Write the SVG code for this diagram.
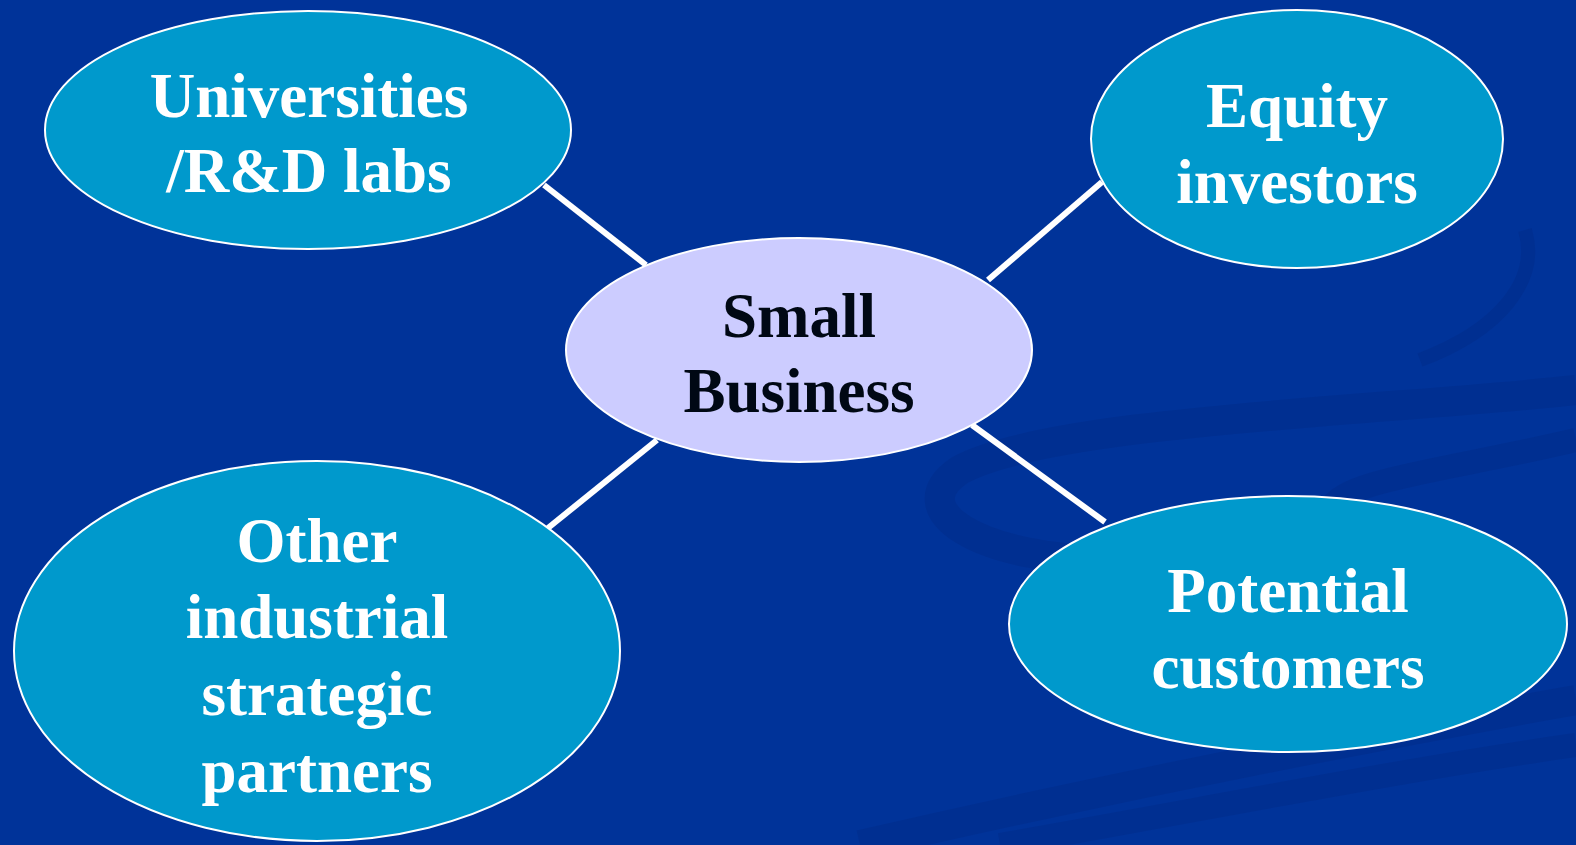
<svg xmlns="http://www.w3.org/2000/svg" width="1576" height="845" viewBox="0 0 1576 845">
<style>
.node{fill:#0099cc;stroke:#ffffff;stroke-width:2}
.center{fill:#ccccff;stroke:#ffffff;stroke-width:2}
.lbl{font-family:"Liberation Serif","Times New Roman",serif;font-weight:bold;font-size:63px;fill:#ffffff;text-anchor:middle}
.dark{fill:#000814}
.conn{stroke:#ffffff;stroke-width:6;fill:none}
.swirl{fill:none;stroke:#002a85;stroke-opacity:0.4}
</style>
<rect width="1576" height="845" fill="#003399"/>
<g id="background">
<path class="swirl" stroke-width="30" d="M1576,390 C1400,410 1050,420 960,470 C900,510 980,560 1110,560"/>
<path class="swirl" stroke-width="24" d="M1576,440 C1450,470 1340,480 1330,510 C1325,530 1380,540 1420,540"/>
<path class="swirl" stroke-width="30" d="M860,845 C1100,790 1350,740 1576,700"/>
<path class="swirl" stroke-width="24" d="M1000,845 C1200,810 1400,770 1576,745"/>
<path class="swirl" stroke-width="14" d="M1525,230 C1540,280 1500,330 1420,360"/>
</g>
<g id="connectors">
<line class="conn" x1="544" y1="185" x2="646" y2="265"/>
<line class="conn" x1="988" y1="280" x2="1102" y2="182"/>
<line class="conn" x1="548" y1="528" x2="657" y2="440"/>
<line class="conn" x1="972" y1="425" x2="1105" y2="522"/>
</g>
<g id="universities">
<ellipse class="node" cx="308" cy="130" rx="263" ry="119"/>
<text class="lbl" x="309" y="117">Universities</text>
<text class="lbl" x="309" y="192">/R&amp;D labs</text>
</g>
<g id="equity">
<ellipse class="node" cx="1297" cy="139" rx="206" ry="129"/>
<text class="lbl" x="1297" y="127">Equity</text>
<text class="lbl" x="1297" y="203">investors</text>
</g>
<g id="small-business">
<ellipse class="center" cx="799" cy="350" rx="233" ry="112"/>
<text class="lbl dark" x="799" y="337">Small</text>
<text class="lbl dark" x="799" y="412">Business</text>
</g>
<g id="partners">
<ellipse class="node" cx="317" cy="651" rx="303" ry="190"/>
<text class="lbl" x="317" y="562">Other</text>
<text class="lbl" x="317" y="638">industrial</text>
<text class="lbl" x="317" y="715">strategic</text>
<text class="lbl" x="317" y="792">partners</text>
</g>
<g id="customers">
<ellipse class="node" cx="1288" cy="624" rx="279" ry="128"/>
<text class="lbl" x="1288" y="612">Potential</text>
<text class="lbl" x="1288" y="688">customers</text>
</g>
</svg>
